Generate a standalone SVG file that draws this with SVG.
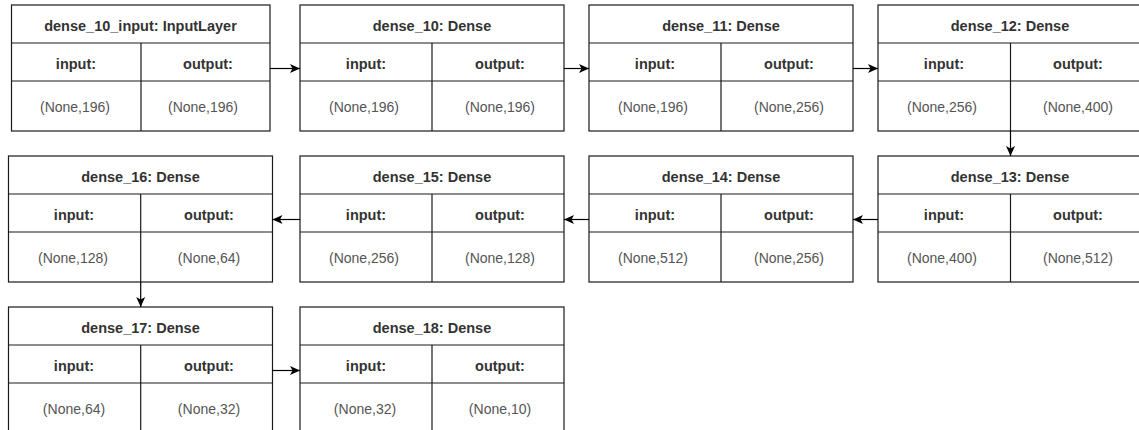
<svg xmlns="http://www.w3.org/2000/svg" width="1139" height="430" viewBox="0 0 1139 430">
<style>
  .box { fill: #ffffff; stroke: #1a1a1a; stroke-width: 1.2; }
  .ln { stroke: #1a1a1a; stroke-width: 1.2; fill: none; }
  .title { font-family: "Liberation Sans", Arial, sans-serif; font-size: 14.5px; font-weight: bold; fill: #333333; text-anchor: middle; }
  .hdr { font-family: "Liberation Sans", Arial, sans-serif; font-size: 14.5px; font-weight: bold; fill: #333333; text-anchor: middle; }
  .val { font-family: "Liberation Sans", Arial, sans-serif; font-size: 14px; fill: #555555; text-anchor: middle; }
  .edge { stroke: #000000; stroke-width: 1.2; fill: none; marker-end: url(#arr); }
</style>
<defs>
  <marker id="arr" markerUnits="userSpaceOnUse" markerWidth="11" markerHeight="10" refX="10" refY="5" orient="auto" viewBox="0 0 11 10">
    <path d="M0,0.5 L10,5 L0,9.5 L2.5,5 Z" fill="#000000"/>
  </marker>
</defs>

<g id="dense_10_input">
  <rect class="box" x="11.5" y="5" width="258.5" height="126"/>
  <path class="ln" d="M11.5,43 H270 M11.5,81 H270 M141,43 V131"/>
  <text class="title" x="140.5" y="30.5">dense_10_input: InputLayer</text>
  <text class="hdr" x="76" y="68.5">input:</text>
  <text class="hdr" x="208" y="68.5">output:</text>
  <text class="val" x="75" y="112">(None,196)</text>
  <text class="val" x="203" y="112">(None,196)</text>
</g>

<g id="dense_10">
  <rect class="box" x="300" y="5" width="264" height="126"/>
  <path class="ln" d="M300,43 H564 M300,81 H564 M432,43 V131"/>
  <text class="title" x="432" y="30.5">dense_10: Dense</text>
  <text class="hdr" x="366" y="68.5">input:</text>
  <text class="hdr" x="500" y="68.5">output:</text>
  <text class="val" x="364" y="112">(None,196)</text>
  <text class="val" x="500" y="112">(None,196)</text>
</g>

<g id="dense_11">
  <rect class="box" x="589" y="5" width="264" height="126"/>
  <path class="ln" d="M589,43 H853 M589,81 H853 M721,43 V131"/>
  <text class="title" x="721" y="30.5">dense_11: Dense</text>
  <text class="hdr" x="655" y="68.5">input:</text>
  <text class="hdr" x="789" y="68.5">output:</text>
  <text class="val" x="653" y="112">(None,196)</text>
  <text class="val" x="789" y="112">(None,256)</text>
</g>

<g id="dense_12">
  <rect class="box" x="878" y="5" width="264" height="126"/>
  <path class="ln" d="M878,43 H1142 M878,81 H1142 M1010.5,43 V131"/>
  <text class="title" x="1010" y="30.5">dense_12: Dense</text>
  <text class="hdr" x="944" y="68.5">input:</text>
  <text class="hdr" x="1078" y="68.5">output:</text>
  <text class="val" x="942" y="112">(None,256)</text>
  <text class="val" x="1078" y="112">(None,400)</text>
</g>

<g id="dense_13">
  <rect class="box" x="878" y="156" width="264" height="126"/>
  <path class="ln" d="M878,194 H1142 M878,232 H1142 M1010.5,194 V282"/>
  <text class="title" x="1010" y="181.5">dense_13: Dense</text>
  <text class="hdr" x="944" y="219.5">input:</text>
  <text class="hdr" x="1078" y="219.5">output:</text>
  <text class="val" x="942" y="263">(None,400)</text>
  <text class="val" x="1078" y="263">(None,512)</text>
</g>

<g id="dense_14">
  <rect class="box" x="589" y="156" width="264" height="126"/>
  <path class="ln" d="M589,194 H853 M589,232 H853 M721,194 V282"/>
  <text class="title" x="721" y="181.5">dense_14: Dense</text>
  <text class="hdr" x="655" y="219.5">input:</text>
  <text class="hdr" x="789" y="219.5">output:</text>
  <text class="val" x="653" y="263">(None,512)</text>
  <text class="val" x="789" y="263">(None,256)</text>
</g>

<g id="dense_15">
  <rect class="box" x="300" y="156" width="264" height="126"/>
  <path class="ln" d="M300,194 H564 M300,232 H564 M432,194 V282"/>
  <text class="title" x="432" y="181.5">dense_15: Dense</text>
  <text class="hdr" x="366" y="219.5">input:</text>
  <text class="hdr" x="500" y="219.5">output:</text>
  <text class="val" x="364" y="263">(None,256)</text>
  <text class="val" x="500" y="263">(None,128)</text>
</g>

<g id="dense_16">
  <rect class="box" x="8.5" y="156" width="264" height="126"/>
  <path class="ln" d="M8.5,194 H272.5 M8.5,232 H272.5 M140.7,194 V282"/>
  <text class="title" x="140.5" y="181.5">dense_16: Dense</text>
  <text class="hdr" x="74" y="219.5">input:</text>
  <text class="hdr" x="209" y="219.5">output:</text>
  <text class="val" x="73" y="263">(None,128)</text>
  <text class="val" x="209" y="263">(None,64)</text>
</g>

<g id="dense_17">
  <rect class="box" x="8.5" y="307" width="264" height="126"/>
  <path class="ln" d="M8.5,345 H272.5 M8.5,383 H272.5 M140.7,345 V433"/>
  <text class="title" x="140.5" y="332.5">dense_17: Dense</text>
  <text class="hdr" x="74" y="370.5">input:</text>
  <text class="hdr" x="209" y="370.5">output:</text>
  <text class="val" x="74" y="414">(None,64)</text>
  <text class="val" x="209" y="414">(None,32)</text>
</g>

<g id="dense_18">
  <rect class="box" x="300" y="307" width="264" height="126"/>
  <path class="ln" d="M300,345 H564 M300,383 H564 M432,345 V433"/>
  <text class="title" x="432" y="332.5">dense_18: Dense</text>
  <text class="hdr" x="366" y="370.5">input:</text>
  <text class="hdr" x="500" y="370.5">output:</text>
  <text class="val" x="365" y="414">(None,32)</text>
  <text class="val" x="500" y="414">(None,10)</text>
</g>

<g id="connectors">
  <path class="edge" d="M270,68.5 H300"/>
  <path class="edge" d="M564,68.5 H589"/>
  <path class="edge" d="M853,68.5 H878"/>
  <path class="edge" d="M1010.5,131 V156"/>
  <path class="edge" d="M878,219.5 H853"/>
  <path class="edge" d="M589,219.5 H564"/>
  <path class="edge" d="M300,219.5 H272.5"/>
  <path class="edge" d="M140.7,282 V307"/>
  <path class="edge" d="M272.5,370.5 H300"/>
</g>
</svg>
